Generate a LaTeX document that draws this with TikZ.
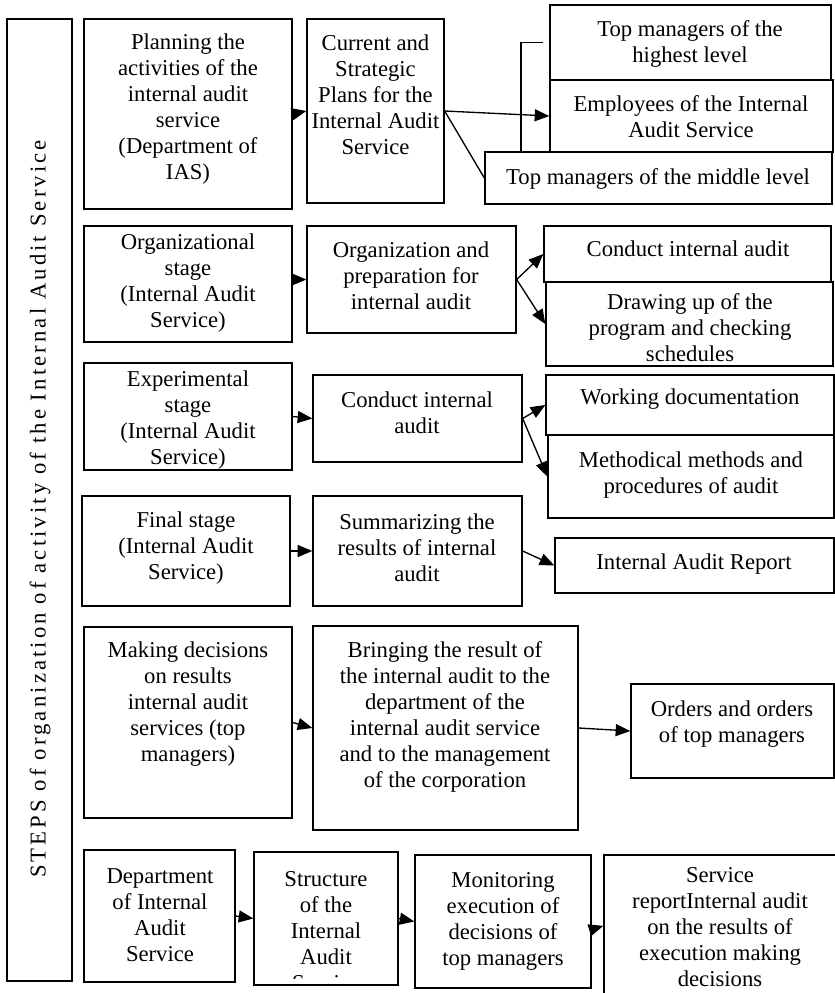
\documentclass[tikz,border=0pt]{standalone}
\usepackage{fontspec}
\setmainfont{Liberation Serif}
\usetikzlibrary{fit,arrows.meta,calc}
\begin{document}
\begin{tikzpicture}[x=0.75pt,y=-0.75pt,
  box/.style={draw, line width=1pt, inner sep=0pt, rectangle},
  basefont/.style={inner sep=0pt, font=\fontsize{17pt}{19.5pt}\selectfont},
  txt/.style={basefont, align=center, yshift=-5.2pt},
  arr/.style={line width=1pt, -{Triangle[length=11pt,width=9pt]}},
  ln/.style={line width=1pt}]
\useasboundingbox (0,0) rectangle (835,993);

% side bar with the vertical title
\node[box, fit={(7,19) (72,981)}] (bar) {};
\node[basefont, rotate=90] (title) at (40,509)
  {\addfontfeature{LetterSpace=13.8}STEPS of organization of activity of the Internal Audit Service};

% row 1: planning
\node[box, fit={(84,19) (292,209)}] (plan) {};
\node[txt] (plant) at (188,102) {Planning the\\activities of the\\internal audit\\service\\(Department of\\IAS)};
\node[box, fit={(307,19) (444,203)}] (cur) {};
\node[txt] (curt) at (375.5,88) {Current and\\Strategic\\Plans for the\\Internal Audit\\Service};
\node[box, fit={(550,5) (831,80)}] (hi) {};
\node[txt] (hit) at (690,37) {Top managers of the\\highest level};
\node[box, fit={(550,80) (833,152)}] (emp) {};
\node[txt] (empt) at (691,110) {Employees of the Internal\\Audit Service};
\node[box, fit={(485,152) (832,204)}] (mid) {};
\node[txt] (midt) at (658,172) {Top managers of the middle level};

% row 2: organizational stage
\node[box, fit={(84,226) (292,342)}] (org) {};
\node[txt] (orgt) at (188,276) {Organizational\\stage\\(Internal Audit\\Service)};
\node[box, fit={(307,226) (516,333)}] (prep) {};
\node[txt] (prept) at (411,269) {Organization and\\preparation for\\internal audit};
\node[box, fit={(544,226) (831,282)}] (condA) {};
\node[txt] (condAt) at (688,242) {Conduct internal audit};
\node[box, fit={(546,282) (833,366)}] (drw) {};
\node[txt] (drwt) at (690,321) {Drawing up of the\\program and checking\\schedules};

% row 3: experimental stage
\node[box, fit={(84,363) (292,470)}] (exper) {};
\node[txt] (expert) at (188,413) {Experimental\\stage\\(Internal Audit\\Service)};
\node[box, fit={(313,375) (522,462)}] (condB) {};
\node[txt] (condBt) at (417,406) {Conduct internal\\audit};
\node[box, fit={(546,375) (834,435)}] (work) {};
\node[txt] (workt) at (690,392) {Working documentation};
\node[box, fit={(548,435) (834,518)}] (meth) {};
\node[txt] (metht) at (691,468) {Methodical methods and\\procedures of audit};

% row 4: final stage
\node[box, fit={(82,496) (290,606)}] (fin) {};
\node[txt] (fint) at (186,541) {Final stage\\(Internal Audit\\Service)};
\node[box, fit={(313,496) (522,606)}] (summ) {};
\node[txt] (summt) at (417,541) {Summarizing the\\results of internal\\audit};
\node[box, fit={(555,538) (834,593)}] (rep) {};
\node[txt] (rept) at (694,557) {Internal Audit Report};

% row 5: decisions
\node[box, fit={(84,627) (292,818)}] (mak) {};
\node[txt] (makt) at (188,697) {Making decisions\\on results\\internal audit\\services (top\\managers)};
\node[box, fit={(313,626) (578,830)}] (bri) {};
\node[txt] (brit) at (445,710) {Bringing the result of\\the internal audit to the\\department of the\\internal audit service\\and to the management\\of the corporation};
\node[box, fit={(631,684) (834,778)}] (ord) {};
\node[txt] (ordt) at (732,717) {Orders and orders\\of top managers};

% row 6: monitoring
\node[box, fit={(84,850) (235,982)}] (dep) {};
\node[txt] (dept) at (160,908) {Department\\of Internal\\Audit\\Service};
\node[box, fit={(254,852) (398,985)}] (struc) {};
\coordinate (strclip) at (396,978);
\begin{scope}
  \clip (struc.north west) rectangle (strclip);
  \node[txt] (struct) at (326,924) {Structure\\of the\\Internal\\Audit\\Service};
\end{scope}
\node[box, fit={(415,855) (591,988)}] (mon) {};
\node[txt] (mont) at (503,914) {Monitoring\\execution of\\decisions of\\top managers};
\node[box, fit={(604,855) (837,1002)}] (serv) {};
\node[txt] (servt) at (720,920) {Service\\reportInternal audit\\on the results of\\execution making\\decisions};

% connectors
\coordinate (bk) at (521,152);
\draw[ln] ($(hi.west)+(-6,0)$) -| (bk);
\draw[arr] (plan.east) -- (cur.west);
\draw[arr] (cur.east) -- (emp.west);
\draw[ln] (cur.east) -- (mid.west);
\draw[arr] (org.east |- prep.west) -- (prep.west);
\draw[arr] (prep.east) -- (condA.west);
\draw[arr] (prep.east) -- (drw.west);
\draw[arr] (exper.east) -- (condB.west);
\draw[arr] (condB.east) -- (work.west);
\draw[arr] (condB.east) -- (meth.west);
\draw[arr] (fin.east) -- (summ.west);
\draw[arr] (summ.east) -- (rep.west);
\draw[arr] (mak.east) -- (bri.west);
\draw[arr] (bri.east) -- (ord.west);
\draw[arr] (dep.east) -- (struc.west);
\draw[arr] (struc.east) -- (mon.west);
\draw[arr] ([yshift=-6pt]mon.east) -- ([yshift=2pt]serv.west);
\end{tikzpicture}
\end{document}
